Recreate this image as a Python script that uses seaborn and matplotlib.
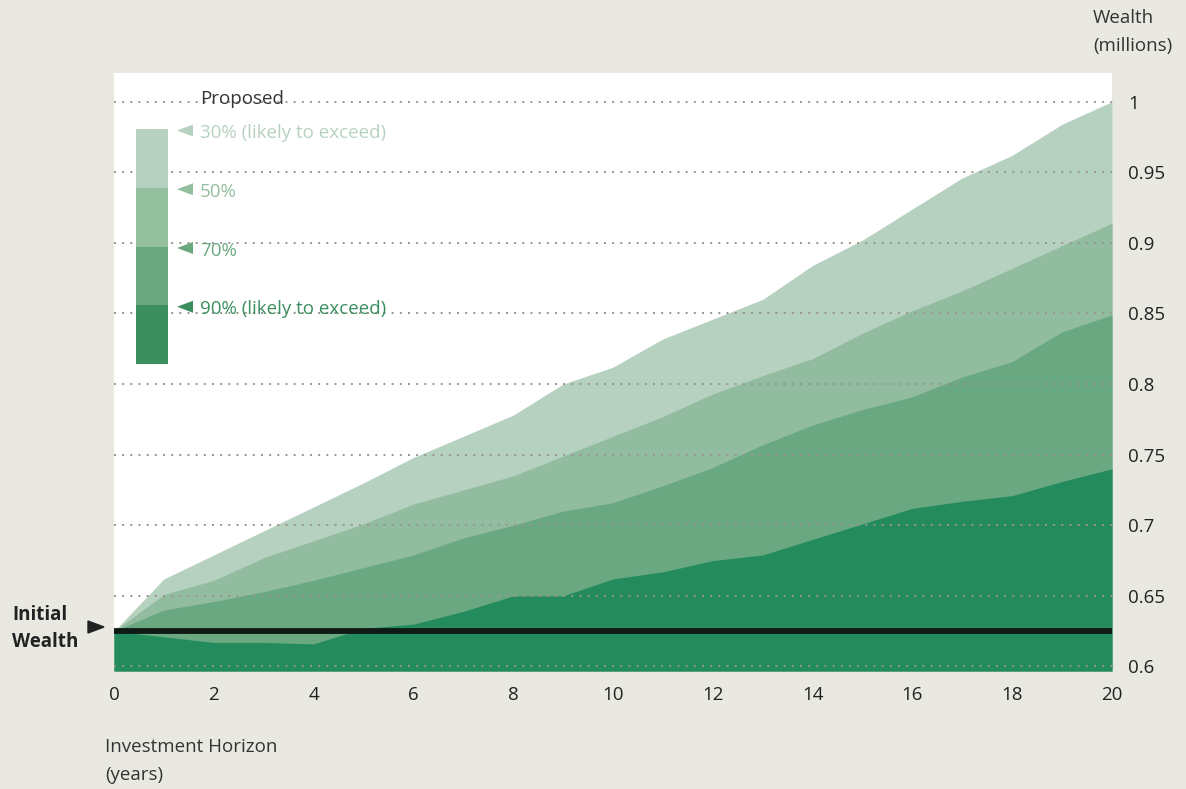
import matplotlib
matplotlib.use("Agg")
import matplotlib.pyplot as plt
from matplotlib.patches import Rectangle, Polygon
import numpy as np
import pandas as pd
import seaborn as sns

# ---- data ----
years = list(range(0, 21))
initial_wealth = 0.625
p30 = [0.625, 0.662, 0.679, 0.696, 0.713, 0.730, 0.748, 0.763, 0.778, 0.800, 0.812,
       0.832, 0.846, 0.860, 0.884, 0.902, 0.924, 0.946, 0.962, 0.984, 1.000]
p50 = [0.625, 0.651, 0.661, 0.677, 0.689, 0.701, 0.715, 0.725, 0.735, 0.749, 0.763,
       0.777, 0.793, 0.806, 0.818, 0.836, 0.852, 0.866, 0.882, 0.898, 0.914]
p70 = [0.625, 0.640, 0.646, 0.653, 0.661, 0.670, 0.679, 0.691, 0.700, 0.710, 0.716,
       0.728, 0.741, 0.757, 0.771, 0.782, 0.791, 0.805, 0.816, 0.837, 0.849]
p90 = [0.625, 0.621, 0.617, 0.617, 0.616, 0.627, 0.630, 0.639, 0.650, 0.650, 0.662,
       0.667, 0.675, 0.679, 0.690, 0.701, 0.712, 0.717, 0.721, 0.731, 0.740]
band_labels = ["30% (likely to exceed)", "50%", "70%", "90% (likely to exceed)"]
x_ticks = list(range(0, 21, 2))
y_ticks = [0.6, 0.65, 0.7, 0.75, 0.8, 0.85, 0.9, 0.95, 1.0]
y_tick_labels = ["0.6", "0.65", "0.7", "0.75", "0.8", "0.85", "0.9", "0.95", "1"]

band_colors = ["#b7d1c0", "#91bc9f", "#6aa882", "#248b5c"]
legend_colors = ["#b7d1c0", "#94bf9f", "#6aa880", "#3b8f5f"]
bg = "#e9e8e1"
ink = "#222222"
soft_ink = "#333333"
fs = 13.5

sns.set_style("white")
plt.rcParams["font.family"] = ["Open Sans", "DejaVu Sans"]

W, H = 1186, 789
fig = plt.figure(figsize=(W / 100, H / 100), dpi=100, facecolor=bg)


def fx(px):
    return px / W


def fy(py):
    return 1 - py / H


ax = fig.add_axes([fx(114), fy(671), fx(1112) - fx(114), fy(73) - fy(671)])
ax.set_facecolor("white")

ymin, ymax = 0.5968, 1.0203
df = pd.DataFrame({"year": years, "p30": p30, "p50": p50, "p70": p70, "p90": p90})

# stacked percentile areas, lightest at the back
for col, color in zip(["p30", "p50", "p70", "p90"], band_colors):
    ax.fill_between(df["year"], ymin, df[col], color=color, lw=0, zorder=1)

# horizontal dotted grid over the areas
for yv in y_ticks:
    ax.axhline(yv, color="#9a958d", lw=1.4, ls=(0, (1, 3.2)), zorder=2)

# initial wealth reference line
base = pd.DataFrame({"year": [0, 20], "wealth": [initial_wealth, initial_wealth]})
sns.lineplot(data=base, x="year", y="wealth", ax=ax, color="#101a15", lw=4.2, zorder=3)

ax.set_xlim(0, 20)
ax.set_ylim(ymin, ymax)
ax.set_xticks(x_ticks)
ax.set_xticklabels([str(t) for t in x_ticks])
ax.yaxis.tick_right()
ax.set_yticks(y_ticks)
ax.set_yticklabels(y_tick_labels)
ax.tick_params(axis="both", length=0, labelsize=fs, labelcolor=ink)
ax.tick_params(axis="x", pad=11)
ax.tick_params(axis="y", pad=11.5)
ax.set_xlabel("")
ax.set_ylabel("")
for s in ax.spines.values():
    s.set_visible(False)

# axis titles
fig.text(fx(1093), fy(18), "Wealth", ha="left", va="center", fontsize=fs, color=soft_ink)
fig.text(fx(1093), fy(46), "(millions)", ha="left", va="center", fontsize=fs, color=soft_ink)
fig.text(fx(105), fy(747), "Investment Horizon", ha="left", va="center", fontsize=fs, color=soft_ink)
fig.text(fx(105), fy(775), "(years)", ha="left", va="center", fontsize=fs, color=soft_ink)

# initial wealth annotation
fig.text(fx(12), fy(615), "Initial", ha="left", va="center",
         fontsize=fs, fontweight="bold", color=ink)
fig.text(fx(12), fy(642), "Wealth", ha="left", va="center",
         fontsize=fs, fontweight="bold", color=ink)
fig.add_artist(Polygon([[fx(88), fy(621)], [fx(88), fy(633)], [fx(104), fy(627)]],
                       closed=True, color=ink, transform=fig.transFigure))

# legend
fig.text(fx(200), fy(99), "Proposed", ha="left", va="center", fontsize=fs, color=soft_ink)
seg_top = 129
seg_h = 58.75
for i, (lab, col) in enumerate(zip(band_labels, legend_colors)):
    top = seg_top + i * seg_h
    fig.add_artist(Rectangle((fx(136), fy(top + seg_h)), fx(168) - fx(136),
                             fy(top) - fy(top + seg_h), color=col, lw=0,
                             transform=fig.transFigure))
    ty = top + 1.5
    fig.add_artist(Polygon([[fx(193), fy(ty - 6)], [fx(193), fy(ty + 6)], [fx(177), fy(ty)]],
                           closed=True, color=col, lw=0, transform=fig.transFigure))
    fig.text(fx(200), fy(ty + 2.5), lab, ha="left", va="center", fontsize=fs, color=col)

fig.savefig("out.png", dpi=100, facecolor=bg)
